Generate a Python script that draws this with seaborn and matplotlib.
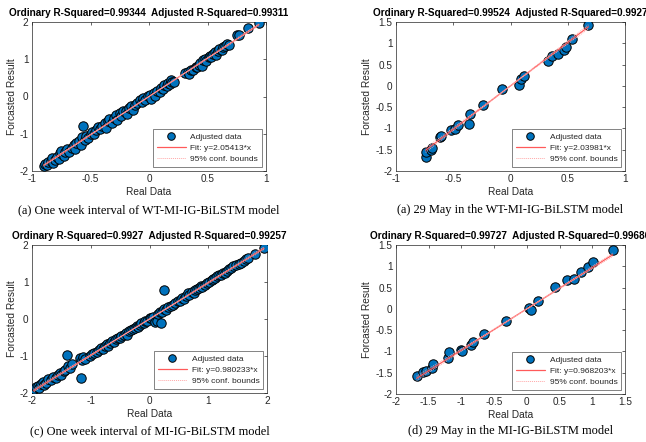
import numpy as np
import pandas as pd
import matplotlib
matplotlib.use("Agg")
import matplotlib.pyplot as plt
import seaborn as sns
from matplotlib.ticker import FuncFormatter

# ---------------- data ----------------
a_real = [-0.90, -0.89, -0.87, -0.86, -0.84, -0.83, -0.82, -0.80, -0.79, -0.77, -0.76, -0.75, -0.73, -0.72,
          -0.70, -0.68, -0.66, -0.64, -0.63, -0.62, -0.60, -0.58, -0.57, -0.56, -0.55, -0.54, -0.52, -0.50,
          -0.49, -0.47, -0.45, -0.44, -0.42, -0.40, -0.38, -0.37, -0.35, -0.34, -0.32, -0.30, -0.28, -0.27,
          -0.25, -0.24, -0.22, -0.20, -0.19, -0.17, -0.15, -0.14, -0.12, -0.10, -0.08, -0.06, -0.05, -0.03,
          -0.01, 0.01, 0.02, 0.04, 0.05, 0.07, 0.09, 0.10, 0.12, 0.13, 0.15, 0.16, 0.18, 0.19, 0.20, 0.21,
          0.31, 0.33, 0.34, 0.36, 0.38, 0.40, 0.41, 0.43, 0.44, 0.45, 0.46, 0.48, 0.49, 0.51, 0.52, 0.53,
          0.55, 0.56, 0.57, 0.59, 0.60, 0.62, 0.63, 0.65, 0.67, 0.68, 0.75, 0.77, 0.85, 0.94]
a_pred = [-1.87, -1.80, -1.85, -1.76, -1.72, -1.66, -1.78, -1.70, -1.62, -1.68, -1.52, -1.45, -1.60, -1.48,
          -1.42, -1.50, -1.38, -1.30, -1.42, -1.25, -1.20, -1.30, -1.10, -0.80, -1.18, -1.05, -1.12, -1.00,
          -0.95, -1.02, -0.90, -0.82, -0.88, -0.80, -0.72, -0.85, -0.65, -0.60, -0.70, -0.58, -0.50, -0.62,
          -0.45, -0.52, -0.40, -0.38, -0.48, -0.32, -0.25, -0.35, -0.22, -0.18, -0.10, -0.15, -0.05, -0.10,
          0.02, 0.05, -0.08, 0.10, 0.02, 0.15, 0.12, 0.22, 0.20, 0.30, 0.28, 0.35, 0.33, 0.45, 0.40, 0.38,
          0.62, 0.66, 0.60, 0.72, 0.70, 0.80, 0.78, 0.85, 0.90, 0.82, 0.98, 1.02, 0.95, 1.06, 1.10, 1.05,
          1.15, 1.20, 1.12, 1.22, 1.28, 1.25, 1.32, 1.35, 1.42, 1.38, 1.65, 1.66, 1.83, 1.98]

b_real = [-0.741, -0.735, -0.692, -0.689, -0.619, -0.611, -0.523, -0.488, -0.456, -0.363, -0.351, -0.240,
          -0.078, 0.074, 0.095, 0.115, 0.330, 0.359, 0.412, 0.470, 0.482, 0.537, 0.680]
b_pred = [-1.68, -1.55, -1.50, -1.45, -1.20, -1.18, -1.04, -1.02, -0.93, -0.89, -0.66, -0.45,
          -0.08, 0.03, 0.16, 0.23, 0.58, 0.70, 0.76, 0.85, 0.92, 1.11, 1.44]

c_real = [-1.97, -1.93, -1.90, -1.88, -1.85, -1.82, -1.80, -1.76, -1.72, -1.68, -1.65, -1.60, -1.56, -1.52,
          -1.50, -1.46, -1.43, -1.41, -1.38, -1.35, -1.32, -1.17, -1.18, -1.15, -1.14, -1.10, -1.02, -0.98,
          -0.95, -0.90, -0.86, -0.82, -0.80, -0.76, -0.72, -0.70, -0.67, -0.64, -0.60, -0.57, -0.54, -0.50,
          -0.48, -0.44, -0.40, -0.38, -0.35, -0.32, -0.28, -0.25, -0.22, -0.20, -0.17, -0.14, -0.10, -0.07,
          -0.04, 0.00, 0.03, 0.06, 0.09, 0.12, 0.15, 0.18, 0.20, 0.22, 0.24, 0.25, 0.28, 0.32, 0.36, 0.40,
          0.44, 0.48, 0.52, 0.55, 0.58, 0.62, 0.65, 0.68, 0.72, 0.75, 0.78, 0.80, 0.84, 0.88, 0.90, 0.94,
          0.98, 1.02, 1.06, 1.08, 1.12, 1.15, 1.18, 1.22, 1.25, 1.28, 1.32, 1.35, 1.38, 1.42, 1.48, 1.52,
          1.55, 1.60, 1.64, 1.67, 1.80, 1.95]
c_pred = [-1.90, -1.85, -1.80, -1.86, -1.75, -1.70, -1.78, -1.72, -1.62, -1.66, -1.58, -1.60, -1.50, -1.45,
          -1.52, -1.40, -1.38, -0.98, -1.28, -1.32, -1.22, -1.60, -1.05, -1.12, -1.02, -1.08, -1.00, -0.95,
          -0.92, -0.88, -0.85, -0.78, -0.82, -0.72, -0.68, -0.72, -0.65, -0.60, -0.62, -0.55, -0.52, -0.50,
          -0.46, -0.44, -0.38, -0.42, -0.33, -0.30, -0.28, -0.24, -0.20, -0.22, -0.15, -0.12, -0.10, -0.06,
          -0.05, 0.02, 0.03, 0.05, -0.08, -0.05, 0.13, 0.18, -0.10, 0.20, 0.79, 0.28, 0.25, 0.32, 0.35, 0.38,
          0.42, 0.50, 0.50, 0.56, 0.55, 0.62, 0.70, 0.66, 0.72, 0.70, 0.78, 0.82, 0.85, 0.88, 0.86, 0.92,
          0.96, 1.00, 1.05, 1.08, 1.10, 1.16, 1.20, 1.18, 1.24, 1.25, 1.30, 1.36, 1.37, 1.42, 1.45, 1.50,
          1.52, 1.58, 1.62, 1.65, 1.76, 1.93]

d_real = [-1.685, -1.593, -1.543, -1.451, -1.436, -1.211, -1.186, -1.003, -0.988, -0.859, -0.818, -0.651,
          -0.320, 0.037, 0.057, 0.174, 0.425, 0.618, 0.725, 0.822, 0.939, 1.006, 1.312]
d_pred = [-1.575, -1.474, -1.458, -1.395, -1.286, -1.152, -1.020, -0.972, -0.980, -0.840, -0.770, -0.589,
          -0.277, 0.020, -0.030, 0.185, 0.507, 0.678, 0.700, 0.874, 0.976, 1.093, 1.390]

slopes = [2.05413, 2.03981, 0.980233, 0.968203]
ordinary_r2 = ["0.99344", "0.99524", "0.9927", "0.99727"]
adjusted_r2 = ["0.99311", "0.9927", "0.99257", "0.99686"]
captions = ["(a) One week interval of WT-MI-IG-BiLSTM model",
            "(a) 29 May in the WT-MI-IG-BiLSTM model",
            "(c) One week interval of MI-IG-BiLSTM model",
            "(d) 29 May in the MI-IG-BiLSTM model"]
x_ticks = [[-1, -0.5, 0, 0.5, 1], [-1, -0.5, 0, 0.5, 1], [-2, -1, 0, 1, 2],
           [-2, -1.5, -1, -0.5, 0, 0.5, 1, 1.5]]
y_ticks = [[-2, -1, 0, 1, 2], [-2, -1.5, -1, -0.5, 0, 0.5, 1, 1.5], [-2, -1, 0, 1, 2],
           [-2, -1.5, -1, -0.5, 0, 0.5, 1, 1.5]]
x_label = "Real Data"
y_label = "Forcasted Result"

# ---------------- style ----------------
sns.set_theme(style="white")
plt.rcParams["font.family"] = ["Liberation Sans", "DejaVu Sans"]
DARK = "#262626"

fig = plt.figure(figsize=(6.46, 4.42), dpi=100)
W, H = 646.0, 442.0
boxes = [(32, 22, 266, 171), (396, 22, 625, 171), (32, 245, 267, 393), (396, 245, 625, 394)]
datasets = [(a_real, a_pred), (b_real, b_pred), (c_real, c_pred), (d_real, d_pred)]

fmt = FuncFormatter(lambda v, p: ("%g" % v))

for i, ((x0, y0, x1, y1), (xr, yp)) in enumerate(zip(boxes, datasets)):
    ax = fig.add_axes([x0 / W, 1 - y1 / H, (x1 - x0) / W, (y1 - y0) / H])
    xr = np.asarray(xr, float)
    yp = np.asarray(yp, float)
    df = pd.DataFrame({"x": xr, "y": yp})
    sns.scatterplot(data=df, x="x", y="y", ax=ax, s=46, color="#0072BD",
                    edgecolor="black", linewidth=0.7, label="Adjusted data", zorder=3)
    # fit line and 95% confidence bounds for y = b*x
    b = slopes[i]
    n = len(xr)
    resid = yp - b * xr
    se_b = np.sqrt(np.sum(resid ** 2) / (n - 1) / np.sum(xr ** 2))
    t = 2.07
    xs = np.linspace(xr.min(), xr.max(), 50)
    sns.lineplot(x=xs, y=b * xs, ax=ax, color="#FF5A5A", lw=0.9,
                 label="Fit: y=%g*x" % b, zorder=4)
    sns.lineplot(x=xs, y=(b + t * se_b) * xs, ax=ax, color="#FFA8A8", lw=0.7,
                 linestyle=(0, (1, 1)), label="95% conf. bounds", zorder=4)
    sns.lineplot(x=xs, y=(b - t * se_b) * xs, ax=ax, color="#FFA8A8", lw=0.7,
                 linestyle=(0, (1, 1)), legend=False, zorder=4)

    ax.set_xlim(x_ticks[i][0], x_ticks[i][-1])
    ax.set_ylim(y_ticks[i][0], y_ticks[i][-1])
    ax.set_xticks(x_ticks[i])
    ax.set_yticks(y_ticks[i])
    ax.xaxis.set_major_formatter(fmt)
    ax.yaxis.set_major_formatter(fmt)
    ax.tick_params(direction="in", length=2.5, width=0.5, colors=DARK, labelsize=7.2,
                   top=True, right=True, pad=2.5)
    for sp in ax.spines.values():
        sp.set_color(DARK)
        sp.set_linewidth(0.5)
    ax.set_xlabel(x_label, fontsize=7.3, color=DARK, labelpad=2)
    ax.set_ylabel(y_label, fontsize=7.3, color=DARK, labelpad=2)
    ax.set_title("Ordinary R-Squared=%s  Adjusted R-Squared=%s" % (ordinary_r2[i], adjusted_r2[i]),
                 fontsize=7.2, fontweight="bold", color="black", pad=4.2)

    axw = x1 - x0
    axh = y1 - y0
    leg = ax.legend(loc="lower right", bbox_to_anchor=(1 - 4 / axw, 4 / axh), borderaxespad=0,
                    fontsize=6, frameon=True, fancybox=False, handlelength=3.4,
                    labelspacing=0.42, borderpad=0.45, handletextpad=0.6, markerscale=0.8)
    leg.get_frame().set_edgecolor(DARK)
    leg.get_frame().set_linewidth(0.5)
    for txt in leg.get_texts():
        txt.set_color(DARK)

    cx = (x0 + x1) / 2 / W
    cy = 1 - (210 if i < 2 else 431) / H
    fig.text(cx, cy, captions[i], ha="center", va="center", fontsize=8.9,
             family=["Liberation Serif", "DejaVu Serif"], color="black")

fig.savefig("out.png", dpi=100)
